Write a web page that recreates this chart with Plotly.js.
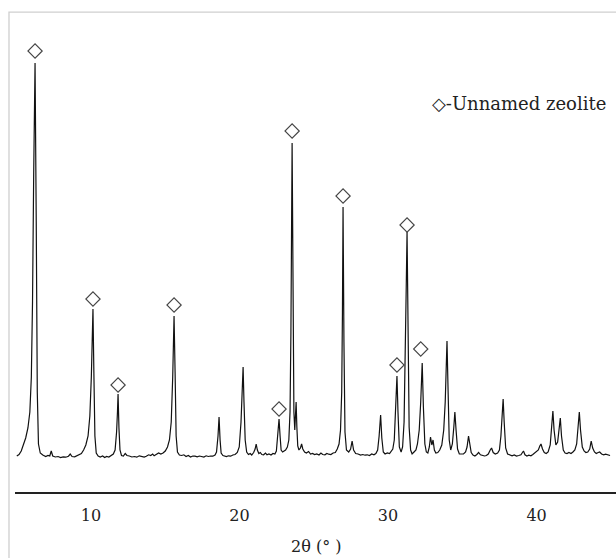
<!DOCTYPE html>
<html><head><meta charset="utf-8">
<script src="https://cdn.plot.ly/plotly-3.0.1.min.js"></script>
<style>html,body{margin:0;padding:0;background:#fff}#chart{width:616px;height:558px}</style>
</head><body><div id="chart"></div>
<script>
// 2θ (degrees) and intensity (a.u.)
const twoTheta = [5.00,5.15,5.30,5.45,5.60,5.75,5.88,5.98,6.06,6.14,6.23,6.31,6.38,6.46,6.58,6.75,6.95,7.10,7.22,7.32,7.42,7.60,7.78,7.95,8.12,8.30,8.48,8.60,8.72,8.90,9.05,9.20,9.35,9.50,9.65,9.80,9.92,10.02,10.08,10.13,10.19,10.26,10.35,10.48,10.62,10.78,10.92,11.05,11.20,11.35,11.50,11.62,11.72,11.78,11.82,11.88,11.95,12.05,12.18,12.30,12.42,12.58,12.75,12.92,13.08,13.25,13.40,13.58,13.72,13.88,14.02,14.15,14.25,14.40,14.55,14.70,14.85,15.00,15.15,15.28,15.40,15.50,15.59,15.66,15.73,15.82,15.95,16.10,16.25,16.40,16.55,16.70,16.85,17.00,17.15,17.30,17.45,17.60,17.75,17.90,18.05,18.20,18.35,18.45,18.55,18.62,18.69,18.76,18.88,19.00,19.12,19.25,19.40,19.55,19.70,19.85,19.98,20.10,20.18,20.24,20.30,20.38,20.48,20.60,20.72,20.82,20.95,21.05,21.12,21.20,21.30,21.40,21.50,21.62,21.75,21.85,21.98,22.12,22.25,22.38,22.48,22.57,22.66,22.73,22.80,22.90,23.00,23.10,23.22,23.32,23.40,23.46,23.54,23.60,23.66,23.72,23.77,23.81,23.86,23.92,24.00,24.10,24.18,24.26,24.38,24.50,24.65,24.78,24.92,25.05,25.20,25.35,25.48,25.60,25.75,25.88,26.00,26.15,26.30,26.45,26.58,26.70,26.80,26.88,26.93,26.97,27.03,27.10,27.20,27.35,27.48,27.58,27.68,27.82,27.98,28.15,28.30,28.45,28.60,28.75,28.90,29.05,29.18,29.30,29.40,29.50,29.58,29.68,29.80,29.95,30.10,30.22,30.32,30.42,30.52,30.60,30.67,30.76,30.88,30.98,31.08,31.16,31.22,31.28,31.34,31.42,31.52,31.62,31.75,31.88,31.98,32.10,32.20,32.30,32.38,32.48,32.58,32.68,32.78,32.86,32.95,33.03,33.12,33.22,33.35,33.48,33.62,33.75,33.85,33.92,33.97,34.03,34.12,34.22,34.33,34.43,34.50,34.58,34.68,34.80,34.95,35.08,35.22,35.32,35.42,35.50,35.60,35.72,35.85,35.98,36.10,36.22,36.35,36.50,36.62,36.75,36.88,36.97,37.08,37.22,37.38,37.50,37.60,37.68,37.75,37.82,37.92,38.05,38.20,38.35,38.50,38.65,38.80,38.95,39.05,39.12,39.22,39.35,39.48,39.62,39.75,39.88,40.00,40.12,40.22,40.30,40.40,40.52,40.65,40.78,40.92,41.02,41.10,41.18,41.30,41.42,41.52,41.60,41.68,41.80,41.92,42.05,42.18,42.32,42.45,42.58,42.70,42.80,42.88,42.96,43.08,43.20,43.32,43.45,43.58,43.68,43.78,43.90,44.02,44.15,44.25,44.38,44.52,44.65,44.80,44.95];
const intensity = [360,375,410,470,540,640,800,1150,1900,3200,4290,2700,1000,480,390,370,355,365,360,410,360,350,355,345,352,348,358,380,355,352,365,370,385,420,470,560,760,1150,1500,1830,1200,560,390,360,350,360,345,355,350,365,380,420,600,800,980,640,420,365,360,385,365,360,350,355,348,362,355,350,358,372,365,380,362,375,390,380,390,410,450,520,700,1150,1760,1200,560,400,370,365,372,355,365,350,360,358,352,360,355,350,362,355,360,358,370,400,560,750,520,390,365,360,355,362,358,370,375,395,450,700,1000,1250,900,520,400,375,385,370,395,430,480,420,385,395,375,372,390,372,380,370,385,380,410,540,730,560,420,400,410,420,450,520,800,1600,3490,2000,800,620,780,900,650,460,420,440,480,430,400,390,405,380,385,375,380,370,390,375,372,385,378,375,390,395,430,480,620,1000,1800,2850,1500,600,420,400,430,510,420,385,380,370,375,368,372,365,380,372,385,420,560,770,540,400,380,390,385,405,430,520,800,1160,800,450,400,450,700,1300,2000,2600,1600,650,420,380,400,420,480,620,900,1290,850,480,400,390,450,550,470,520,420,390,395,420,470,620,900,1250,1510,1100,520,420,480,650,800,620,430,380,378,380,400,450,560,470,395,370,360,375,395,372,365,360,365,380,420,440,395,380,390,420,560,780,930,700,440,380,368,362,370,360,365,372,395,410,372,360,368,362,375,390,400,420,460,480,430,395,385,400,470,620,810,620,470,500,620,740,560,420,390,385,395,385,400,420,480,620,800,620,450,410,395,400,430,510,440,400,385,395,400,380,372,378,370,365];
// Peaks marked as "Unnamed zeolite" (diamond positions)
const markTheta = [6.23,10.13,11.82,15.59,22.66,23.54,26.97,30.60,31.28,32.20];
const markIntensity = [4410,1930,1070,1870,830,3610,2960,1270,2670,1430];
const xTicks = [10,20,30,40];
const xTickText = ['10','20','30','40'];

const serif = 'DejaVu Serif';
const data = [
  {x: twoTheta, y: intensity, type: 'scatter', mode: 'lines',
   line: {color: '#111', width: 1.2}, hoverinfo: 'skip', showlegend: false},
  {x: markTheta, y: markIntensity, type: 'scatter', mode: 'markers',
   marker: {symbol: 'diamond-open', size: 11, color: '#444', line: {width: 1.1, color: '#444'}},
   showlegend: false}
];
const layout = {
  width: 616, height: 558,
  font: {family: serif},
  margin: {l: 15, r: 0, t: 13, b: 66, pad: 0},
  paper_bgcolor: '#fff', plot_bgcolor: '#fff',
  showlegend: false,
  xaxis: {range: [4.88, 45.35], tickvals: xTicks, ticktext: xTickText, ticks: '',
    showgrid: false, zeroline: false, showline: true, linecolor: '#222', linewidth: 2,
    tickfont: {family: serif, size: 16, color: '#222'}, ticklabelstandoff: 8, fixedrange: true},
  yaxis: {range: [0, 4790], showgrid: false, zeroline: false, showline: false,
    showticklabels: false, ticks: '', fixedrange: true},
  shapes: [
    {type: 'rect', xref: 'paper', yref: 'paper', x0: -0.01, x1: 1.2, y0: -0.3, y1: 1.002,
     line: {color: '#cfcfcf', width: 1.3}, fillcolor: 'rgba(0,0,0,0)', layer: 'below'}
  ],
  annotations: [
    {text: '2θ (° )', xref: 'paper', yref: 'paper', x: 0.5, y: -0.1148,
     xanchor: 'center', yanchor: 'middle', showarrow: false,
     font: {family: serif, size: 16, color: '#222'}},
    {text: '◇-Unnamed zeolite', xref: 'paper', yref: 'paper', x: 0.691, y: 0.812,
     xanchor: 'left', yanchor: 'middle', showarrow: false,
     font: {family: serif, size: 18, color: '#222'}}
  ]
};
Plotly.newPlot('chart', data, layout, {displayModeBar: false, staticPlot: true});
</script></body></html>
